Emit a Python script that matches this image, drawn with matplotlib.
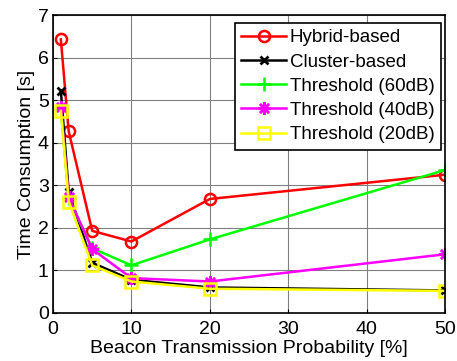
import matplotlib
matplotlib.use("Agg")
import matplotlib.pyplot as plt

plt.rcParams['font.family'] = ['Liberation Sans', 'DejaVu Sans']

x = [1, 2, 5, 10, 20, 50]
hybrid = [6.43, 4.27, 1.93, 1.68, 2.68, 3.25]
cluster = [5.22, 2.85, 1.18, 0.78, 0.60, 0.53]
thr60 = [4.80, 2.70, 1.52, 1.12, 1.73, 3.36]
thr40 = [4.85, 2.72, 1.50, 0.82, 0.74, 1.38]
thr20 = [4.75, 2.62, 1.12, 0.74, 0.57, 0.52]

xticks = [0, 10, 20, 30, 40, 50]
yticks = [0, 1, 2, 3, 4, 5, 6, 7]

fig = plt.figure(figsize=(4.57, 3.61), dpi=100)
ax = fig.add_axes([0.116, 0.133, 0.858, 0.825])

ax.plot(x, hybrid, color='red', lw=1.8, marker='o', ms=8, mfc='none', mew=1.8, label='Hybrid-based')
ax.plot(x, cluster, color='black', lw=1.8, marker='x', ms=6, mew=2, label='Cluster-based')
ax.plot(x, thr60, color='#00ff00', lw=1.8, marker='+', ms=10, mew=1.8, label='Threshold (60dB)')
ax.plot(x, thr40, color='magenta', lw=1.8, marker=(8, 2, 0), ms=9, mew=1.8, label='Threshold (40dB)')
ax.plot(x, thr20, color='yellow', lw=1.8, marker='s', ms=8, mfc='none', mew=1.8, label='Threshold (20dB)')

ax.set_xlim(0, 50)
ax.set_ylim(0, 7)
ax.set_xticks(xticks)
ax.set_yticks(yticks)
ax.grid(True, color='#808080', lw=0.8)
ax.tick_params(direction='in', labelsize=14, length=3)
ax.tick_params(axis='x', pad=6)
ax.tick_params(axis='y', pad=3)
for s in ax.spines.values():
    s.set_linewidth(1.2)
ax.set_xlabel('Beacon Transmission Probability [%]', fontsize=14, labelpad=1)
ax.set_ylabel('Time Consumption [s]', fontsize=14, labelpad=2)

leg = ax.legend(loc='upper right', bbox_to_anchor=(0.99, 0.975), fontsize=13.5, frameon=True,
                fancybox=False, edgecolor='black', framealpha=1, handlelength=2.4,
                handletextpad=0.2, borderpad=0.35, labelspacing=0.38, borderaxespad=0)
leg.get_frame().set_linewidth(1.2)

fig.savefig('out.png', dpi=100)
